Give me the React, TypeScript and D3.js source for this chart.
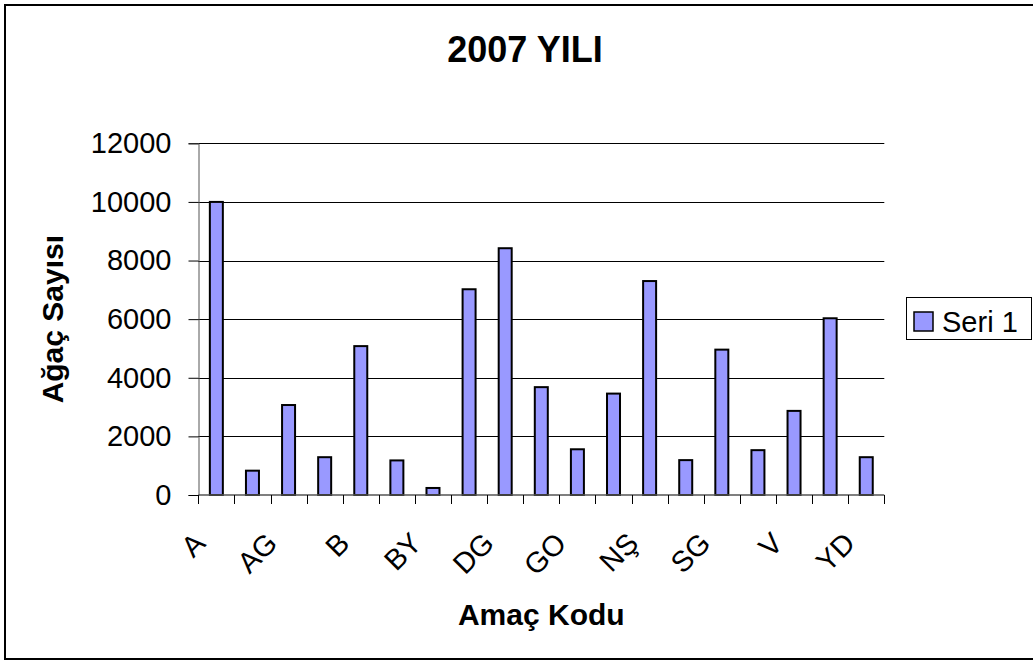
import React, { useEffect, useRef } from 'react';
import * as d3 from 'd3';

// categories (only every other one gets a visible label, like the original)
const categories = [
  'A', 'AÇ', 'AG', 'AY', 'B', 'BK', 'BY', 'D', 'DG', 'G',
  'GO', 'K', 'NŞ', 'S', 'SG', 'T', 'V', 'Y', 'YD'
];
const seriesValues = [
  10000, 830, 3070, 1290, 5080, 1180, 240, 7020, 8420, 3680,
  1560, 3460, 7300, 1190, 4960, 1530, 2870, 6030, 1290
];
const yTicks = [0, 2000, 4000, 6000, 8000, 10000, 12000];
const seriesName = 'Seri 1';
const chartTitle = '2007 YILI';
const xTitle = 'Amaç Kodu';
const yTitle = 'Ağaç Sayısı';

const FONT = '"Liberation Sans", Arial, sans-serif';
const BAR_FILL = '#9999FF';

export default function App() {
  const ref = useRef<SVGSVGElement>(null);

  useEffect(() => {
    const width = 1033;
    const height = 664;
    const left = 198.3, right = 884.3, top = 143.3, bottom = 495;

    const svg = d3.select(ref.current);
    svg.selectAll('*').remove();

    // white background + outer frame
    svg.append('rect').attr('width', width).attr('height', height).attr('fill', '#fff');
    svg.append('rect')
      .attr('x', 5).attr('y', 5)
      .attr('width', 1060).attr('height', 654)
      .attr('fill', 'none')
      .attr('stroke', '#000')
      .attr('stroke-width', 2);

    const x = d3.scaleBand<string>()
      .domain(categories)
      .range([left, right])
      .paddingInner(0.64)
      .paddingOuter(0.32);

    const y = d3.scaleLinear().domain([0, 12000]).range([bottom, top]);

    // gridlines
    svg.append('g')
      .selectAll('line')
      .data(yTicks.filter(d => d > 0))
      .enter()
      .append('line')
      .attr('x1', left).attr('x2', right)
      .attr('y1', d => Math.round(y(d)) + 0.5)
      .attr('y2', d => Math.round(y(d)) + 0.5)
      .attr('stroke', '#000')
      .attr('stroke-width', 1);

    // y axis
    const yAxis = d3.axisLeft(y).tickValues(yTicks).tickSize(10).tickPadding(17).tickFormat(d3.format('d'));
    const gy = svg.append('g').attr('transform', `translate(${Math.round(left) + 0.5},0)`).call(yAxis);
    gy.select('.domain').attr('stroke', '#555');
    gy.selectAll('.tick line').attr('stroke', '#000');
    gy.selectAll('.tick text')
      .attr('font-family', FONT)
      .attr('font-size', 29)
      .attr('fill', '#000');

    // bars
    svg.append('g')
      .selectAll('rect')
      .data(seriesValues)
      .enter()
      .append('rect')
      .attr('x', (d, i) => x(categories[i])!)
      .attr('y', d => y(d))
      .attr('width', x.bandwidth())
      .attr('height', d => bottom - y(d))
      .attr('fill', BAR_FILL)
      .attr('stroke', '#000')
      .attr('stroke-width', 2);

    // x axis line + ticks at category boundaries
    const step = x.step();
    svg.append('line')
      .attr('x1', left).attr('x2', right)
      .attr('y1', bottom).attr('y2', bottom)
      .attr('stroke', '#555').attr('stroke-width', 1.5);
    svg.append('g')
      .selectAll('line')
      .data(d3.range(categories.length + 1))
      .enter()
      .append('line')
      .attr('x1', i => Math.round(left + i * step) + 0.5)
      .attr('x2', i => Math.round(left + i * step) + 0.5)
      .attr('y1', bottom).attr('y2', bottom + 9)
      .attr('stroke', '#000');

    // rotated category labels, every other one
    svg.append('g')
      .selectAll('text')
      .data(categories.filter((c, i) => i % 2 === 0))
      .enter()
      .append('text')
      .attr('transform', d => `translate(${x(d)! + x.bandwidth() / 2 - 9.5},${bottom + 50}) rotate(-45)`)
      .attr('text-anchor', 'end')
      .attr('font-family', FONT)
      .attr('font-size', 29)
      .attr('fill', '#000')
      .text(d => d);

    // titles
    svg.append('text')
      .attr('x', 525).attr('y', 62)
      .attr('text-anchor', 'middle')
      .attr('font-family', FONT)
      .attr('font-weight', 700)
      .attr('font-size', 36)
      .text(chartTitle);

    svg.append('text')
      .attr('x', (left + right) / 2).attr('y', 625)
      .attr('text-anchor', 'middle')
      .attr('font-family', FONT)
      .attr('font-weight', 700)
      .attr('font-size', 30)
      .text(xTitle);

    svg.append('text')
      .attr('transform', `translate(63,${(top + bottom) / 2}) rotate(-90)`)
      .attr('text-anchor', 'middle')
      .attr('font-family', FONT)
      .attr('font-weight', 700)
      .attr('font-size', 30)
      .text(yTitle);

    // legend
    const lg = svg.append('g');
    lg.append('rect')
      .attr('x', 906.5).attr('y', 297.5)
      .attr('width', 125).attr('height', 42)
      .attr('fill', '#fff')
      .attr('stroke', '#000');
    lg.append('rect')
      .attr('x', 914).attr('y', 312)
      .attr('width', 19).attr('height', 19)
      .attr('fill', BAR_FILL)
      .attr('stroke', '#000')
      .attr('stroke-width', 1.5);
    lg.append('text')
      .attr('x', 942).attr('y', 332)
      .attr('font-family', FONT)
      .attr('font-size', 29)
      .text(seriesName);
  }, []);

  return (
    <div style={{ position: 'fixed', left: 0, top: 0 }}>
      <svg ref={ref} width={1033} height={664} style={{ display: 'block' }} />
    </div>
  );
}
